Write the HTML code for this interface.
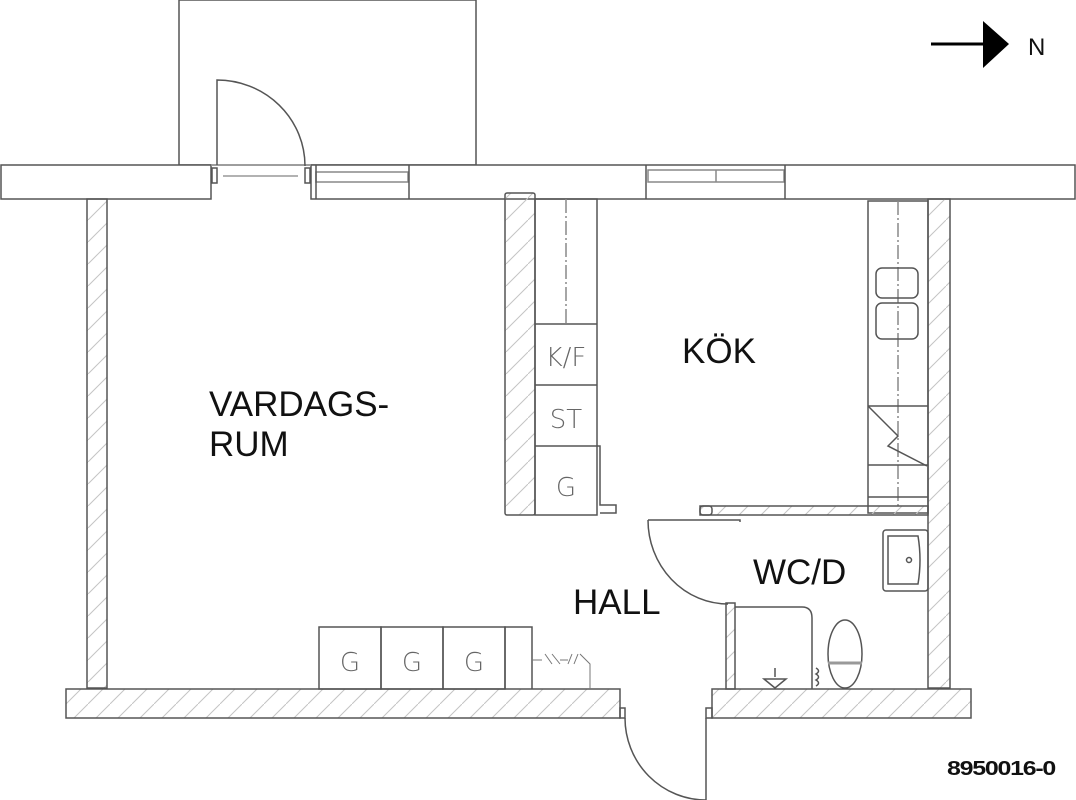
<!DOCTYPE html>
<html><head><meta charset="utf-8"><style>html,body{margin:0;padding:0;background:#fff}svg{display:block}</style></head>
<body>
<svg width="1076" height="800" viewBox="0 0 1076 800" xmlns="http://www.w3.org/2000/svg">
<defs>
<pattern id="h" width="22" height="22" patternUnits="userSpaceOnUse">
<path d="M0 22 L22 0" stroke="#c4c4c4" stroke-width="1"/>
</pattern>
</defs>
<g fill="none" stroke="#555" stroke-width="1.5">
<rect x="179" y="0" width="297" height="165"/>
<rect x="1" y="165" width="210" height="34" fill="#fff"/>
<rect x="311" y="165" width="764" height="34" fill="#fff"/>
<line x1="211" y1="165" x2="311" y2="165" stroke="#999"/>
<line x1="223" y1="176" x2="298" y2="176" stroke="#999"/>
<rect x="212" y="168" width="5" height="15"/>
<rect x="305" y="168" width="5" height="15"/>
<rect x="316" y="172" width="92" height="10" stroke="#888"/>
<line x1="316" y1="165" x2="316" y2="199"/><line x1="409" y1="165" x2="409" y2="199"/>
<rect x="648" y="170" width="136" height="12" stroke="#888"/>
<line x1="716" y1="170" x2="716" y2="182" stroke="#888"/>
<line x1="646" y1="165" x2="646" y2="199"/><line x1="785" y1="165" x2="785" y2="199"/>
<path d="M217 165 V80 A88 86 0 0 1 305 166"/>
<rect x="87" y="199" width="20" height="489" fill="url(#h)"/>
<rect x="66" y="689" width="554" height="29" fill="url(#h)"/>
<rect x="620" y="708" width="5" height="10"/>
<rect x="712" y="689" width="259" height="29" fill="url(#h)"/>
<rect x="706" y="708" width="6" height="10"/>
<path d="M706 718 V800 M625 718 A81 82 0 0 0 706 800"/>
<rect x="928" y="199" width="22" height="489" fill="url(#h)"/>
<rect x="505" y="193" width="30" height="322" rx="2" fill="url(#h)"/>
<rect x="535" y="199" width="62" height="316"/>
<line x1="566" y1="199" x2="566" y2="324" stroke="#888" stroke-dasharray="14 3 2 3"/>
<line x1="535" y1="324" x2="597" y2="324"/>
<line x1="535" y1="385" x2="597" y2="385"/>
<path d="M535 446 H600 V505 H616 V513 H600"/>
<rect x="868" y="201" width="60" height="312"/>
<line x1="898" y1="201" x2="898" y2="508" stroke="#888" stroke-dasharray="14 3 2 3"/>
<rect x="876" y="268" width="42" height="30" rx="6"/>
<rect x="876" y="303" width="42" height="36" rx="6"/>
<line x1="868" y1="406" x2="928" y2="406"/>
<line x1="868" y1="465" x2="928" y2="465"/>
<line x1="868" y1="497" x2="928" y2="497"/>
<path d="M868 406 L898 436 L888 446 L927 466"/>
<rect x="700" y="506" width="228" height="9" fill="url(#h)"/>
<rect x="700" y="506" width="12" height="9" rx="3"/>
<path d="M648 520 H740 V522 M648 520 A80 84 0 0 0 728 604"/>
<rect x="726" y="603" width="9" height="86" fill="url(#h)"/>
<path d="M735 607 H802 Q812 607 812 618 V689"/>
<rect x="883" y="530" width="45" height="61" rx="3"/>
<path d="M888 536 H918 Q922 560 918 584 H888 Z"/>
<circle cx="909" cy="560" r="2.5"/>
<ellipse cx="845" cy="654" rx="17" ry="34"/>
<line x1="828" y1="663" x2="862" y2="663" stroke="#999" stroke-width="3"/>
<path d="M816 668 q5 3 0 6 q5 3 0 6 q5 3 0 6" />
<path d="M764 679 H786 L775 688 Z M775 668 V677"/>
<rect x="319" y="627" width="62" height="62"/>
<rect x="381" y="627" width="62" height="62"/>
<rect x="443" y="627" width="62" height="62"/>
<path d="M505 689 V627 H532 V689"/>
<path d="M532 660 H542 M545 654 L552 664 M552 654 L560 664 M560 660 H568 M572 654 L568 664 M578 654 L574 664 M580 654 L590 664 V689" stroke="#777" stroke-width="1"/>
</g>
<g font-family="'DejaVu Sans','Liberation Sans',sans-serif" fill="#666" font-size="26" text-anchor="middle" font-weight="200">
<text x="566" y="366">K/F</text>
<text x="566" y="428">ST</text>
<text x="566" y="496">G</text>
<text x="350" y="671">G</text>
<text x="412" y="671">G</text>
<text x="474" y="671">G</text>
</g>
<g font-family="'Liberation Sans',sans-serif" fill="#111" font-size="35">
<text x="209" y="416">VARDAGS-</text>
<text x="209" y="456">RUM</text>
<text x="682" y="363">KÖK</text>
<text x="573" y="614">HALL</text>
<text x="753" y="584">WC/D</text>
<text x="1028" y="55" font-size="24">N</text>
<text x="947" y="775" font-size="20" font-weight="bold" letter-spacing="-1" textLength="108" lengthAdjust="spacingAndGlyphs">8950016-0</text>
</g>
<line x1="931" y1="44" x2="986" y2="44" stroke="#000" stroke-width="3"/>
<path d="M983 21 L1009 44 L983 68 Z" fill="#000"/>
</svg>
</body></html>
